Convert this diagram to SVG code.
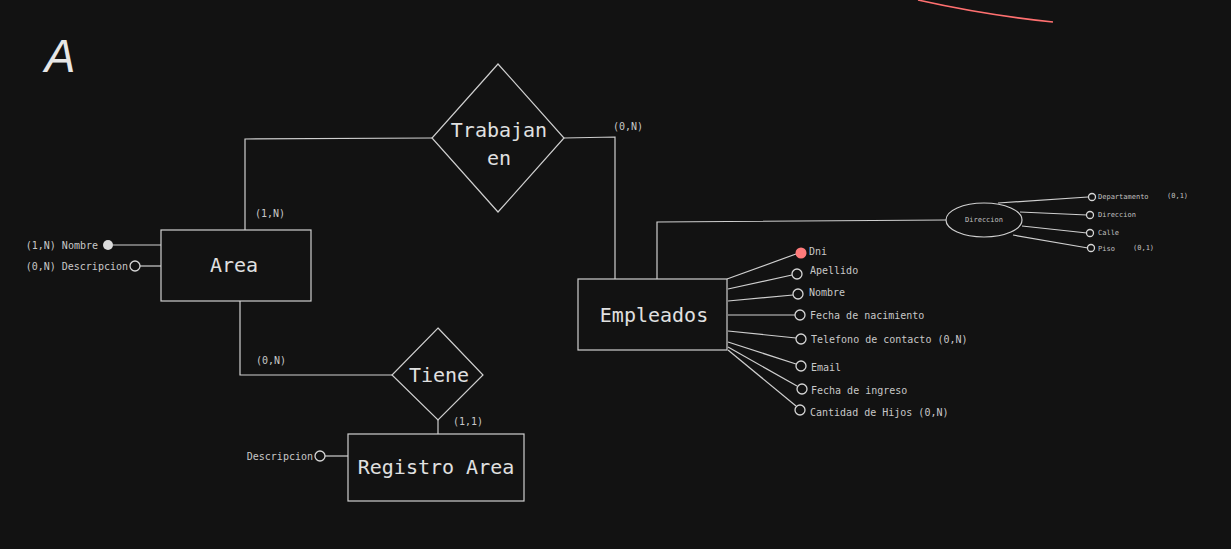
<svg xmlns="http://www.w3.org/2000/svg" width="1231" height="549" viewBox="0 0 1231 549">
<style>
.ln{fill:none;stroke:#cfcfcf;stroke-width:1.2}
.box{fill:#121212;stroke:#cfcfcf;stroke-width:1.2}
.oc{fill:#121212;stroke:#d6d6d6;stroke-width:1.3}
.big{font-family:"DejaVu Sans Mono","Liberation Mono",monospace;font-size:20px;fill:#e0e0e0;text-anchor:middle;dominant-baseline:central}
.sm{font-family:"DejaVu Sans Mono","Liberation Mono",monospace;font-size:10px;fill:#c8c8c8;dominant-baseline:central}
.xs{font-family:"DejaVu Sans Mono","Liberation Mono",monospace;font-size:7px;fill:#c0c0c0;dominant-baseline:central}
</style>
<rect width="1231" height="549" fill="#121212"/>
<text x="60" y="72" font-family="Liberation Sans, sans-serif" font-style="italic" font-size="46" fill="#e6e6e6" text-anchor="middle">A</text>
<path d="M918 0 Q985 15 1053 22" fill="none" stroke="#ff7070" stroke-width="1.6"/>
<g id="connectors">
<polyline class="ln" points="245,230 245,139 432,138"/>
<polyline class="ln" points="564,138 615,137 615,279"/>
<polyline class="ln" points="240,301 240,375 392,375"/>
<line class="ln" x1="438" y1="420" x2="438" y2="434"/>
<polyline class="ln" points="657,279 657,222 946,220"/>
<line class="ln" x1="113" y1="245" x2="161" y2="245"/>
<line class="ln" x1="140" y1="266" x2="161" y2="266"/>
<line class="ln" x1="325" y1="456" x2="348" y2="456"/>
<line class="ln" x1="727" y1="279" x2="796" y2="254"/>
<line class="ln" x1="728" y1="289" x2="792" y2="275"/>
<line class="ln" x1="728" y1="301" x2="793" y2="295"/>
<line class="ln" x1="728" y1="315" x2="795" y2="315"/>
<line class="ln" x1="728" y1="331" x2="796" y2="338"/>
<line class="ln" x1="728" y1="342" x2="796" y2="364"/>
<line class="ln" x1="728" y1="347" x2="797" y2="386"/>
<line class="ln" x1="728" y1="350" x2="796" y2="406"/>
<line class="ln" x1="998" y1="203" x2="1088" y2="197"/>
<line class="ln" x1="1020" y1="212" x2="1087" y2="215"/>
<line class="ln" x1="1022" y1="226" x2="1087" y2="233"/>
<line class="ln" x1="1013" y1="235" x2="1088" y2="248"/>
</g>
<g id="trabajan-en">
<polygon class="box" points="498,64 564,138 498,212 432,138"/>
<text class="big" x="499" y="130">Trabajan</text>
<text class="big" x="499" y="158">en</text>
<text class="sm" x="613" y="126">(0,N)</text>
<text class="sm" x="255" y="213">(1,N)</text>
</g>
<g id="area">
<rect class="box" x="161" y="230" width="150" height="71"/>
<text class="big" x="234" y="265">Area</text>
<circle cx="108" cy="245" r="5" fill="#dcdcdc"/>
<text class="sm" x="98" y="245" text-anchor="end">(1,N) Nombre</text>
<circle class="oc" cx="135" cy="266" r="5"/>
<text class="sm" x="128" y="266" text-anchor="end">(0,N) Descripcion</text>
</g>
<g id="tiene">
<polygon class="box" points="438,328 483,375 438,420 392,375"/>
<text class="big" x="439" y="375">Tiene</text>
<text class="sm" x="256" y="360">(0,N)</text>
<text class="sm" x="453" y="421">(1,1)</text>
</g>
<g id="registro-area">
<rect class="box" x="348" y="434" width="176" height="67"/>
<text class="big" x="436" y="467">Registro Area</text>
<circle class="oc" cx="320" cy="456" r="5"/>
<text class="sm" x="313" y="456" text-anchor="end">Descripcion</text>
</g>
<g id="empleados">
<rect class="box" x="578" y="279" width="149" height="71"/>
<text class="big" x="654" y="315">Empleados</text>
<circle cx="801" cy="253" r="5.5" fill="#ff7b7b"/>
<text class="sm" x="809" y="251">Dni</text>
<circle class="oc" cx="797" cy="274" r="5"/>
<text class="sm" x="810" y="270">Apellido</text>
<circle class="oc" cx="798" cy="294" r="5"/>
<text class="sm" x="809" y="292">Nombre</text>
<circle class="oc" cx="800" cy="315" r="5"/>
<text class="sm" x="810" y="315">Fecha de nacimiento</text>
<circle class="oc" cx="801" cy="339" r="5"/>
<text class="sm" x="811" y="339">Telefono de contacto (0,N)</text>
<circle class="oc" cx="801" cy="366" r="5"/>
<text class="sm" x="811" y="367">Email</text>
<circle class="oc" cx="802" cy="389" r="5"/>
<text class="sm" x="811" y="390">Fecha de ingreso</text>
<circle class="oc" cx="800" cy="410" r="5"/>
<text class="sm" x="810" y="412">Cantidad de Hijos  (0,N)</text>
</g>
<g id="direccion">
<ellipse class="box" cx="984" cy="220" rx="38" ry="17"/>
<text class="xs" x="984" y="220" text-anchor="middle">Direccion</text>
<circle class="oc" cx="1092" cy="197" r="3.5"/>
<text class="xs" x="1098" y="197">Departamento</text>
<text class="xs" x="1167" y="196">(0,1)</text>
<circle class="oc" cx="1090" cy="215" r="3.5"/>
<text class="xs" x="1098" y="215">Direccion</text>
<circle class="oc" cx="1090" cy="233" r="3.5"/>
<text class="xs" x="1098" y="233">Calle</text>
<circle class="oc" cx="1091" cy="248" r="3.5"/>
<text class="xs" x="1098" y="249">Piso</text>
<text class="xs" x="1133" y="248">(0,1)</text>
</g>
</svg>
